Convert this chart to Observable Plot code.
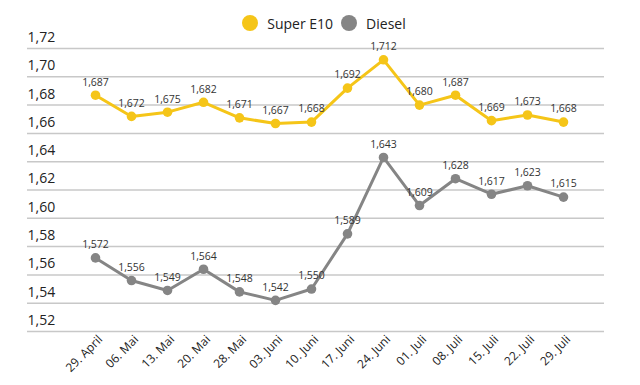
<!DOCTYPE html>
<html><head><meta charset="utf-8">
<script src="https://cdn.jsdelivr.net/npm/d3@7"></script>
<script src="https://cdn.jsdelivr.net/npm/@observablehq/plot@0.6"></script>
<style>
body{margin:0;background:#fff;font-family:"Open Sans",sans-serif;position:relative;}
#legend{position:absolute;top:12px;left:0;width:640px;height:22px;display:flex;justify-content:center;align-items:center;font-size:14px;color:#222;padding-left:8px;box-sizing:border-box;}
.sw{display:inline-block;width:16px;height:16px;border-radius:50%;margin-right:9px;}
.item{display:flex;align-items:center;margin:0 4px;}
</style></head>
<body>
<div id="chart"></div>
<div id="legend"></div>
<script>
const dates = ["29. April","06. Mai","13. Mai","20. Mai","28. Mai","03. Juni","10. Juni","17. Juni","24. Juni","01. Juli","08. Juli","15. Juli","22. Juli","29. Juli"];
const superE10 = [1.687,1.672,1.675,1.682,1.671,1.667,1.668,1.692,1.712,1.680,1.687,1.669,1.673,1.668];
const diesel = [1.572,1.556,1.549,1.564,1.548,1.542,1.550,1.589,1.643,1.609,1.628,1.617,1.623,1.615];
const yTicks = [1.52,1.54,1.56,1.58,1.60,1.62,1.64,1.66,1.68,1.70,1.72];
const seriesNames = ["Super E10","Diesel"];
const colors = ["#f5c518","#858585"];

const rows = [];
dates.forEach((d,i)=>{
  rows.push({date:d, value:superE10[i], series:seriesNames[0]});
  rows.push({date:d, value:diesel[i], series:seriesNames[1]});
});

const fmt3 = v => v.toFixed(3).replace(".",",");
const fmt2 = v => v.toFixed(2).replace(".",",");

const leg = document.getElementById("legend");
seriesNames.forEach((s,i)=>{
  const it = document.createElement("span");
  it.className="item";
  it.innerHTML = `<span class="sw" style="background:${colors[i]}"></span>${s}`;
  leg.appendChild(it);
});

const chart = Plot.plot({
  width: 640,
  height: 385,
  marginTop: 48,
  marginBottom: 54,
  marginLeft: 27,
  marginRight: 36,
  style: {fontFamily: "Open Sans, sans-serif", background: "#fff"},
  x: {type: "point", domain: dates, range: [74, 584], label: null},
  y: {domain: [1.52, 1.72], label: null, axis: null},
  color: {domain: seriesNames, range: colors},
  marks: [
    Plot.ruleY(yTicks, {stroke: "#c8c8c8", strokeWidth: 1.5}),
    Plot.text(yTicks, {y: d=>d, text: fmt2, frameAnchor: "left", textAnchor: "start", dy: -11, fontSize: 14, fill: "#222"}),
    Plot.axisX({tickSize: 0, tickRotate: -45, textAnchor: "end", fontSize: 12, fill: "#222", dx: 5, dy: 2, tickPadding: 4}),
    Plot.line(rows, {x: "date", y: "value", z: "series", stroke: "series", strokeWidth: 3}),
    Plot.dot(rows, {x: "date", y: "value", fill: "series", r: 4.8}),
    Plot.text(rows, {x: "date", y: "value", text: d=>fmt3(d.value), dy: -13, fontSize: 10.5, fill: "#333"})
  ]
});
document.getElementById("chart").appendChild(chart);
</script>
</body></html>
